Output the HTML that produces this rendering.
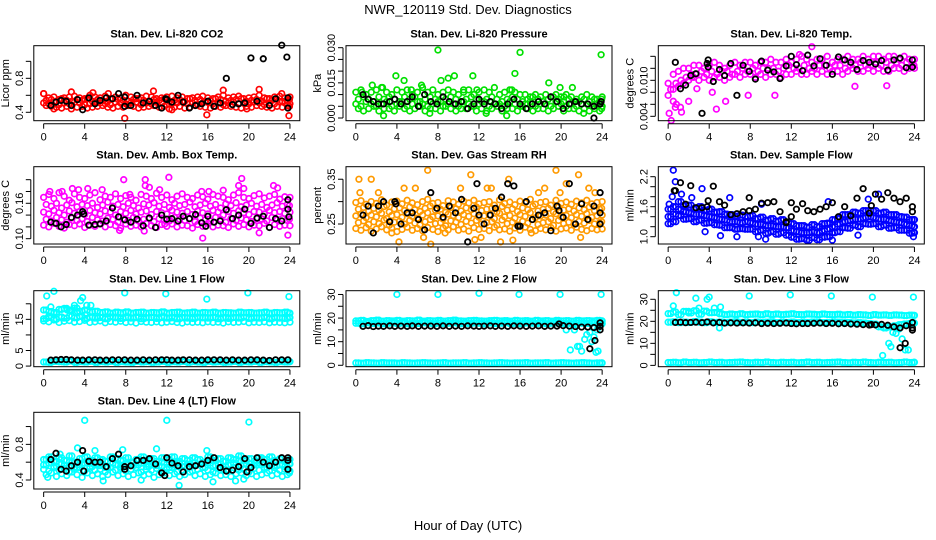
<!DOCTYPE html>
<html><head><meta charset="utf-8"><style>
html,body{margin:0;padding:0;background:#fff;}
svg{display:block;font-family:"Liberation Sans",sans-serif;}
</style></head><body>
<svg id="chart" width="936" height="540" viewBox="0 0 936 540" xmlns="http://www.w3.org/2000/svg">
<rect width="936" height="540" fill="#fff"/>
<text x="468" y="14" text-anchor="middle" font-size="13">NWR_120119  Std. Dev. Diagnostics</text>
<text x="468" y="530" text-anchor="middle" font-size="13">Hour of Day (UTC)</text>
<g id="plots"></g>
</svg>
<script>
const H=[0,0.5,1,1.5,2,2.5,3,3.5,4,4.5,5,5.5,6,6.5,7,7.5,8,8.5,9,9.5,10,10.5,11,11.5,12,12.5,13,13.5,14,14.5,15,15.5,16,16.5,17,17.5,18,18.5,19,19.5,20,20.5,21,21.5,22,22.5,23,23.5,24];
const HQ=[0.25,0.75,1.25,1.75,2.25,2.75,3.25,3.75,4.25,4.75,5.25,5.75,6.25,6.75,7.25,7.75,8.25,8.75,9.25,9.75,10.25,10.75,11.25,11.75,12.25,12.75,13.25,13.75,14.25,14.75,15.25,15.75,16.25,16.75,17.25,17.75,18.25,18.75,19.25,19.75,20.25,20.75,21.25,21.75,22.25,22.75,23.25,23.75,23.95];
const HB=[0.7,1.2,1.7,2.2,2.7,3.3,3.8,4.4,5.0,5.5,6.1,6.7,7.3,7.9,8.5,9.1,9.7,10.3,10.9,11.5,12.0,12.5,13.1,13.6,14.2,14.8,15.4,16.0,16.6,17.2,17.8,18.4,19.0,19.6,20.2,20.8,21.4,22.0,22.6,23.2,23.8];
const hourTicks=[0,4,8,12,16,20,24];

/* CO2 */
const co2A=[.62,.57,.58,.55,.57,.58,.59,.57,.56,.60,.58,.57,.59,.56,.58,.57,.60,.58,.56,.57,.59,.58,.56,.57,.58,.59,.57,.58,.56,.57,.58,.59,.57,.56,.58,.60,.57,.58,.59,.56,.57,.58,.60,.57,.56,.58,.59,.57,.58];
const co2B=[.48,.47,.46,.45,.47,.48,.46,.47,.45,.46,.47,.48,.46,.45,.47,.46,.48,.47,.45,.46,.47,.48,.46,.47,.44,.46,.47,.45,.46,.48,.47,.46,.45,.47,.46,.48,.47,.46,.45,.47,.46,.48,.47,.46,.45,.47,.46,.48,.47];
const co2C=[.54,.55,.53,.56,.54,.53,.55,.54,.56,.53,.55,.54,.53,.56,.55,.54,.53,.55,.56,.54,.53,.55,.54,.56,.53,.54,.55,.53,.56,.54,.55,.53,.54,.56,.55,.53,.54,.55,.56,.53,.54,.55,.53,.56,.54,.55,.53,.54,.55];
const co2D=[.51,.50,.52,.49,.51,.50,.52,.51,.49,.50,.52,.51,.50,.49,.52,.51,.50,.51,.52,.49,.51,.50,.52,.51,.49,.50,.51,.52,.50,.51,.49,.51,.52,.50,.51,.49,.51,.52,.50,.51,.50,.52,.51,.49,.51,.50,.52,.51,.50];
const co2OutX=[0,1,2.7,4.8,7.9,10.7,12.5,15.9,17.5,19.8,21,23.2,23.9,2.7,6.3];
const co2OutV=[.62,.44,.64,.63,.33,.65,.43,.37,.66,.44,.67,.62,.36,.44,.62];
const co2Blk=[.48,.52,.54,.53,.48,.55,.43,.57,.50,.54,.57,.56,.62,.47,.48,.60,.51,.53,.48,.45,.55,.52,.60,.52,.45,.48,.50,.53,.47,.51,.80,.49,.50,.51,1.04,.53,1.03,.48,.56,1.19,.57];
const co2ExX=[23.7,23.8,7.9,11.9];
const co2ExV=[1.05,.45,.58,.56];
const co2Ticks=[.4,.6,.8,1.0];
const co2Labels=['0.4','0.8'];

/* Pressure */
const prA=[.011,.012,.010,.011,.012,.013,.011,.010,.012,.011,.012,.010,.011,.013,.011,.012,.010,.011,.012,.011,.010,.011,.012,.010,.011,.012,.011,.013,.010,.011,.012,.011,.010,.010,.009,.010,.009,.010,.009,.010,.009,.010,.009,.008,.009,.010,.009,.008,.009];
const prB=[.008,.009,.008,.007,.009,.008,.009,.008,.007,.009,.008,.009,.007,.008,.009,.008,.007,.008,.009,.008,.007,.008,.009,.008,.007,.008,.009,.008,.007,.008,.009,.008,.007,.008,.009,.008,.007,.008,.009,.008,.007,.008,.007,.007,.008,.007,.008,.007,.008];
const prC=[.006,.005,.007,.006,.005,.006,.007,.005,.006,.007,.005,.006,.007,.006,.005,.006,.007,.005,.006,.006,.005,.007,.006,.005,.006,.007,.005,.006,.006,.005,.007,.006,.005,.006,.007,.005,.006,.006,.005,.007,.006,.005,.006,.005,.006,.006,.005,.006,.005];
const prD=[.004,.003,.004,.005,.003,.004,.004,.003,.005,.004,.003,.004,.005,.003,.004,.004,.003,.005,.004,.003,.004,.004,.005,.003,.004,.003,.004,.005,.003,.004,.004,.003,.005,.004,.003,.004,.004,.003,.004,.005,.003,.004,.004,.003,.004,.003,.004,.003,.004];
const prOutX=[0.6,1.6,2.6,3.9,4.7,5.4,6.4,7.2,8.0,8.3,9,9.6,10.5,11.4,11.8,12.7,15.2,15.5,16,18.8,19.9,21.1,22.2,23.9,2.7,14.7,20.3];
const prOutV=[.011,.014,.013,.018,.016,.012,.014,.002,.029,.016,.017,.018,.012,.018,.012,.002,.012,.019,.028,.015,.013,.013,.002,.027,.001,.001,.009];
const prBlk=[.010,.008,.007,.006,.006,.007,.008,.006,.007,.009,.005,.010,.007,.006,.009,.007,.006,.007,.004,.006,.008,.006,.007,.006,.004,.006,.008,.006,.004,.006,.007,.006,.009,.007,.004,.006,.007,.006,.006,.005,.006];
const prExX=[23.2,23.8,23.9];
const prExV=[.000,.006,.007];
const prTicks=[0,.005,.010,.015,.020,.025,.030];
const prLabels=['0.000','0.015','0.030'];

/* Li-820 Temp */
const tmA=[.0095,.011,.0115,.012,.012,.0125,.0125,.012,.0125,.013,.0125,.012,.0125,.013,.0125,.013,.013,.0125,.013,.013,.0135,.013,.013,.0135,.013,.0135,.014,.0135,.013,.0135,.0135,.014,.013,.0135,.0135,.014,.0135,.0135,.014,.0135,.014,.014,.0135,.014,.014,.0135,.014,.0135,.0135];
const tmB=[.0085,.0095,.010,.0105,.011,.011,.0115,.011,.0115,.011,.0115,.0115,.011,.0115,.012,.0115,.012,.0115,.012,.012,.012,.0115,.012,.0125,.012,.012,.0125,.012,.012,.0125,.0125,.012,.0125,.0125,.012,.0125,.0125,.013,.0125,.0125,.013,.0125,.013,.0125,.013,.0125,.013,.0125,.0125];
const tmC=[.0075,.0085,.009,.0095,.010,.0105,.010,.0105,.010,.0105,.0105,.010,.0105,.011,.0105,.011,.011,.0105,.011,.0105,.011,.011,.0105,.011,.011,.0115,.011,.011,.0115,.011,.0115,.011,.0115,.0115,.011,.0115,.012,.0115,.0115,.012,.0115,.012,.0115,.0115,.012,.012,.0115,.012,.012];
const tmOutX=[0.1,0.3,0.5,0.8,1.2,1.3,2.3,2,4.7,5.6,4.3,2.8,7.8,10.4,14,18.2,21.3,12.8,0.7];
const tmOutV=[.0045,.0033,.0065,.006,.0055,.0047,.0105,.0065,.0052,.0065,.008,.0086,.0075,.0075,.0156,.009,.0091,.0143,.0055];
const tmBlk=[.0130,.0086,.0092,.0108,.0111,.0045,.0128,.0098,.0118,.0108,.0128,.0075,.0125,.0115,.0102,.0132,.0117,.0114,.0103,.0124,.0140,.0126,.0116,.0142,.0124,.0136,.0125,.0110,.0139,.0134,.0130,.0118,.0133,.0130,.0127,.0133,.0117,.0134,.0137,.0121,.0122];
const tmExX=[3.9,3.9,23.8];
const tmExV=[.0134,.0122,.0134];
const tmTicks=[.004,.006,.008,.010,.012,.014];
const tmLabels=['0.004','0.010'];

/* Amb Box Temp */
const amA=[.170,.175,.168,.178,.172,.165,.176,.170,.168,.174,.178,.166,.172,.170,.176,.168,.173,.170,.165,.175,.172,.168,.177,.170,.174,.166,.172,.176,.170,.168,.174,.171,.167,.175,.172,.170,.166,.174,.178,.170,.168,.173,.176,.169,.172,.175,.167,.171,.170];
const amB=[.158,.155,.160,.152,.157,.161,.154,.158,.156,.160,.153,.157,.162,.155,.158,.154,.160,.156,.152,.159,.157,.161,.155,.158,.153,.160,.156,.158,.162,.154,.157,.160,.155,.158,.152,.159,.156,.161,.154,.157,.160,.155,.158,.153,.157,.161,.155,.158,.156];
const amC=[.145,.142,.148,.144,.140,.147,.143,.146,.141,.148,.144,.142,.147,.145,.140,.146,.143,.148,.142,.145,.147,.141,.146,.144,.142,.148,.145,.143,.146,.141,.147,.144,.142,.148,.145,.140,.146,.143,.147,.144,.141,.146,.145,.142,.148,.144,.146,.143,.145];
const amD=[.133,.130,.136,.132,.128,.135,.131,.134,.129,.136,.132,.130,.135,.133,.128,.134,.131,.136,.130,.133,.135,.129,.134,.132,.130,.136,.133,.131,.134,.129,.135,.132,.130,.136,.133,.128,.134,.131,.135,.132,.129,.134,.133,.130,.136,.132,.134,.131,.133];
const amE=[.123,.120,.126,.121,.118,.124,.122,.125,.119,.123,.121,.126,.120,.124,.122,.118,.125,.121,.123,.120,.126,.122,.119,.124,.121,.125,.120,.123,.122,.118,.124,.121,.126,.120,.123,.122,.119,.125,.121,.124,.120,.123,.122,.126,.119,.124,.121,.123,.122];
const amOutX=[0.6,1.8,2.8,3.4,4.3,5.7,7.8,8.4,9.9,9.9,10.3,12.2,11.3,15.4,16.1,17.5,19.0,19.3,19.5,22.4,22.8,7.4,9.8,15.5,21.0,23.8,11.8];
const amOutV=[.18,.18,.185,.183,.185,.183,.2,.175,.2,.19,.187,.204,.183,.18,.18,.182,.19,.202,.185,.19,.186,.114,.113,.101,.11,.106,.125];
const amBlk=[.128,.126,.120,.124,.136,.140,.146,.123,.124,.125,.130,.152,.137,.132,.128,.133,.122,.135,.119,.140,.133,.134,.130,.138,.134,.141,.127,.138,.128,.130,.149,.134,.140,.150,.126,.135,.138,.119,.134,.130,.150];
const amExX=[23.8,23.9,3.9,15.8];
const amExV=[.166,.137,.142,.121];
const amTicks=[.10,.12,.14,.16,.18,.20];
const amLabels=['0.10','0.16'];

/* Gas Stream RH */
const rhA=[.298,.302,.294,.300,.296,.304,.292,.299,.301,.295,.303,.297,.293,.300,.305,.296,.298,.291,.302,.299,.294,.301,.297,.303,.295,.298,.300,.292,.304,.296,.299,.293,.301,.297,.305,.294,.298,.300,.292,.303,.296,.299,.294,.301,.297,.303,.295,.298,.300];
const rhB=[.283,.287,.279,.285,.281,.289,.277,.284,.286,.280,.288,.282,.278,.285,.290,.281,.283,.276,.287,.284,.279,.286,.282,.288,.280,.283,.285,.277,.289,.281,.284,.278,.286,.282,.290,.279,.283,.285,.277,.288,.281,.284,.279,.286,.282,.288,.280,.283,.285];
const rhC=[.268,.272,.264,.270,.266,.274,.262,.269,.271,.265,.273,.267,.263,.270,.275,.266,.268,.261,.272,.269,.264,.271,.267,.273,.265,.268,.270,.262,.274,.266,.269,.263,.271,.267,.275,.264,.268,.270,.262,.273,.266,.269,.264,.271,.267,.273,.265,.268,.270];
const rhD=[.253,.257,.249,.255,.251,.259,.247,.254,.256,.250,.258,.252,.248,.255,.260,.251,.253,.246,.257,.254,.249,.256,.252,.258,.250,.253,.255,.247,.259,.251,.254,.248,.256,.252,.260,.249,.253,.255,.247,.258,.251,.254,.249,.256,.252,.258,.250,.253,.255];
const rhE=[.240,.236,.242,.234,.239,.244,.237,.241,.233,.238,.243,.236,.240,.235,.242,.238,.233,.241,.237,.244,.236,.239,.234,.242,.238,.240,.235,.243,.237,.239,.234,.241,.236,.243,.238,.235,.240,.237,.242,.234,.239,.241,.236,.243,.238,.235,.240,.237,.239];
const rhOutX=[0.3,1.5,0.4,2.2,3.5,4.2,4.7,5.8,6.6,7.0,7.3,8.7,10.2,11.2,11.6,12.2,12.8,13.2,14.1,14.9,15.3,17.1,17.8,18.4,19.5,19.9,20.5,21.7,21.9,22.7,23.3];
const rhOutV=[.35,.35,.32,.32,.23,.21,.33,.33,.22,.37,.205,.23,.33,.36,.215,.22,.33,.33,.21,.35,.214,.23,.32,.33,.37,.32,.34,.36,.22,.33,.32];
const rhBlk=[.270,.290,.230,.290,.300,.255,.300,.250,.275,.275,.260,.237,.320,.285,.265,.290,.275,.305,.210,.285,.270,.250,.270,.285,.310,.340,.335,.245,.300,.260,.270,.275,.235,.290,.265,.340,.250,.295,.260,.290,.275];
const rhExX=[23.8,23.8,11.8,15.8,19.8,3.9];
const rhExV=[.25,.32,.34,.245,.28,.295];
const rhTicks=[.25,.30,.35];
const rhLabels=['0.25','0.35'];

/* Sample Flow */
const sfA=[1.55,1.60,1.70,1.62,1.63,1.56,1.60,1.53,1.55,1.49,1.50,1.45,1.44,1.41,1.43,1.40,1.42,1.36,1.39,1.33,1.36,1.31,1.34,1.29,1.26,1.22,1.22,1.19,1.24,1.20,1.26,1.27,1.34,1.37,1.44,1.44,1.49,1.47,1.52,1.52,1.52,1.47,1.49,1.44,1.44,1.40,1.39,1.34,1.34];
const sfB=[1.40,1.45,1.55,1.50,1.48,1.45,1.45,1.42,1.40,1.38,1.35,1.33,1.30,1.30,1.28,1.30,1.28,1.25,1.25,1.22,1.22,1.20,1.20,1.18,1.12,1.10,1.08,1.08,1.10,1.08,1.12,1.15,1.20,1.25,1.30,1.32,1.35,1.35,1.38,1.40,1.38,1.35,1.35,1.32,1.30,1.28,1.25,1.22,1.20];
const sfC=[1.26,1.30,1.42,1.35,1.36,1.30,1.33,1.27,1.28,1.24,1.23,1.18,1.18,1.15,1.16,1.15,1.15,1.10,1.13,1.07,1.10,1.05,1.08,1.03,0.99,0.95,0.96,0.93,0.98,0.94,0.99,1.00,1.08,1.10,1.18,1.17,1.23,1.20,1.26,1.25,1.26,1.20,1.23,1.17,1.18,1.13,1.13,1.07,1.08];
const sfOutX=[0.5,0.7,0.4,3.3,6.0,9.1,0.1,8.8,9.5,5.1,6.7,16.0,18.5,23.9,20.5,19.5,1.3,2.3,15.6,3.6];
const sfOutV=[2.33,2.1,1.8,1.96,1.78,1.65,1.65,1.0,0.95,1.02,1.0,0.93,1.03,1.0,1.85,1.75,1.85,1.78,1.7,1.1];
const sfBlk=[1.92,2.08,1.65,2.02,1.58,1.58,1.60,2.01,1.70,1.63,1.44,1.46,1.50,1.78,1.55,1.67,1.68,1.70,1.50,1.28,1.68,1.55,1.66,1.52,1.50,1.55,1.60,1.68,1.40,1.60,1.42,1.77,1.96,1.47,1.85,1.75,1.88,1.77,1.70,1.77,1.60];
const sfExX=[12,11.5,19.8,23.8,0.6,3.9,7.9];
const sfExV=[1.4,1.30,1.62,1.5,1.92,1.72,1.52];
const sfTicks=[1.0,1.2,1.4,1.6,1.8,2.0,2.2];
const sfLabels=['1.0','1.6','2.2'];

/* Line 1 Flow */
const l1A=[18.0,17.5,17.2,18.2,18.5,17.8,18.6,17.6,18.0,17.4,17.6,17.2,17.4,17.0,17.3,17.1,17.4,17.0,17.2,17.3,17.0,17.2,17.1,17.4,17.0,17.2,17.3,17.0,17.1,17.3,17.0,17.2,17.1,17.3,17.0,17.2,17.1,17.0,17.3,17.1,17.2,17.0,17.1,17.3,17.0,17.2,17.1,17.3,17.0];
const l1B=[15.2,15.6,15.0,15.8,15.4,16.0,15.5,15.9,15.3,15.7,15.4,15.6,15.2,15.8,15.5,15.3,15.6,15.4,15.7,15.2,15.5,15.6,15.3,15.7,15.4,15.5,15.2,15.6,15.4,15.3,15.7,15.5,15.4,15.6,15.2,15.5,15.3,15.6,15.4,15.7,15.3,15.5,15.4,15.6,15.2,15.5,15.4,15.3,15.6];
const l1C=[14.5,14.2,14.8,14.0,14.4,14.6,14.1,14.3,14.7,14.0,14.2,14.5,13.9,14.3,14.1,14.4,14.0,14.2,13.8,14.3,14.1,14.0,14.2,13.9,14.1,14.3,14.0,13.8,14.2,14.0,14.1,13.9,14.2,14.0,14.1,13.8,14.2,14.0,14.1,14.3,13.9,14.1,14.0,14.2,13.9,14.1,14.0,13.9,14.1];
const l1D=[1.3,1.2,1.5,1.4,1.3,1.6,1.2,1.4,1.3,1.5,1.2,1.4,1.3,1.5,1.2,1.4,1.3,1.2,1.5,1.3,1.4,1.2,1.3,1.5,1.2,1.4,1.3,1.5,1.2,1.4,1.3,1.2,1.5,1.3,1.4,1.2,1.3,1.5,1.2,1.4,1.3,1.5,1.2,1.4,1.3,1.2,1.4,1.3,1.4];
const l1OutX=[0.3,0.5,0.7,1.0,2.6,2.3,3.0,3.3,3.6,3.8,4.2,4.6,7.9,11.9,15.9,19.9,23.9,1.0];
const l1OutV=[22.5,16,19,17,18,18,19.5,17.5,21,22,19.5,19.5,23.5,23.2,21.5,23.5,22.3,24];
const l1Blk=[1.9,2.0,2.1,2.1,2.0,1.9,1.9,2.0,2.0,1.9,1.9,2.0,2.0,2.0,1.9,1.9,2.0,1.9,2.0,2.0,2.0,1.9,1.9,2.0,2.0,1.9,1.9,2.0,2.0,2.0,1.9,2.0,1.9,1.9,2.0,2.0,1.9,1.8,2.0,2.0,2.0];
const l1ExX=[];
const l1ExV=[];
const l1Ticks=[0,5,10,15,20];
const l1Labels=['0','5','15'];

/* Line 2 Flow */
const l2A=[18.8,19.0,18.6,18.9,19.1,18.7,18.9,18.8,19.0,18.7,18.9,18.8,19.1,18.7,18.9,18.8,19.0,18.7,18.9,19.1,18.8,18.7,18.9,19.0,18.8,18.7,18.9,19.0,18.8,18.9,18.7,19.0,18.8,18.9,18.7,19.0,18.8,18.9,18.7,19.0,18.8,18.9,18.7,19.0,18.8,18.9,18.8,19.0,18.8];
const l2B=[17.8,17.6,18.0,17.7,17.9,17.6,17.8,18.0,17.7,17.9,17.6,17.8,17.7,18.0,17.8,17.6,17.9,17.7,17.8,18.0,17.6,17.8,17.7,17.9,17.8,17.6,17.9,17.7,17.8,18.0,17.7,17.8,17.6,17.9,17.8,17.7,17.9,17.6,17.8,18.0,17.7,17.8,17.6,17.9,17.8,17.7,17.9,17.8,17.6];
const l2C=[1.0,0.9,1.1,1.0,0.9,1.1,1.0,1.0,0.9,1.1,1.0,0.9,1.0,1.1,1.0,0.9,1.0,1.1,0.9,1.0,1.0,1.1,0.9,1.0,1.1,1.0,0.9,1.0,1.1,1.0,0.9,1.0,1.0,1.1,0.9,1.0,1.0,1.1,0.9,1.0,1.1,1.0,0.9,1.0,1.1,1.0,0.9,1.0,1.0];
const l2OutX=[4,8,12,15.9,19.9,23.9,20.5,20.9,21.3,21.6,21.8,22.0,22.3,22.5,22.8,23.0,23.2,23.4,23.6,23.5];
const l2OutV=[30,30,30.5,30,30,30,15,6.5,15,8,8,6,11,13,14,10,12,5.5,6,15];
const l2Blk=[16.5,16.8,16.4,16.6,16.5,16.7,16.5,16.6,16.5,16.7,16.5,16.6,16.6,16.5,16.7,16.5,16.6,16.5,16.7,16.6,16.5,16.6,16.7,16.5,16.6,16.5,16.7,16.6,16.5,16.6,16.7,16.5,16.6,16.6,16.8,16.6,16.4,16.2,16.2,16.0,16.5];
const l2ExX=[22.8,23.3,23.8,23.8,19.8];
const l2ExV=[7,10.5,18,15,17.5];
const l2Ticks=[0,5,10,15,20,25,30];
const l2Labels=['0','10','20','30'];

/* Line 3 Flow */
const l3A=[23.5,24.2,23.0,24.5,23.8,24.8,23.2,24.6,23.9,24.0,23.4,23.0,23.3,23.1,23.4,23.0,23.2,23.3,23.0,23.4,23.1,23.3,23.0,23.2,23.4,23.1,23.0,23.3,23.2,23.0,23.3,23.1,23.0,23.2,22.9,23.1,22.8,23.0,22.9,22.7,23.0,22.8,22.9,22.7,22.9,22.8,22.6,22.8,22.7];
const l3B=[19.6,19.8,19.4,19.7,19.5,19.9,19.6,19.4,19.8,19.5,19.7,19.4,19.6,19.8,19.5,19.6,19.4,19.7,19.5,19.6,19.8,19.4,19.6,19.5,19.7,19.4,19.6,19.5,19.7,19.6,19.4,19.5,19.7,19.6,19.4,19.5,19.3,19.4,19.2,19.0,18.8,17.5,17.0,17.5,18.0,18.5,18.8,19.0,19.2];
const l3C=[1.3,1.4,1.2,1.5,1.3,1.4,1.2,1.3,1.5,1.3,1.4,1.2,1.3,1.4,1.5,1.3,1.2,1.4,1.3,1.5,1.3,1.2,1.4,1.3,1.4,1.2,1.3,1.5,1.3,1.4,1.2,1.3,1.4,1.5,1.3,1.2,1.4,1.3,1.5,1.3,1.2,1.4,1.3,1.4,1.2,1.3,1.5,1.3,1.4];
const l3OutX=[0.5,0.8,2.7,3.8,4.0,2.0,3.0,4.5,5.1,7.9,11.9,15.9,19.9,23.9,20.9,21.5,21.7,21.9,22.2,22.5,22.8,23.1,23.4,22.3,5.0];
const l3OutV=[27,33,30.5,30,31,24.5,26,26,26.5,31.5,32,31.5,31,31,4.5,10,8.5,15,14.5,16.5,12,7,7,17,17];
const l3Blk=[19.5,19.6,19.4,19.5,19.6,19.4,19.7,19.3,19.5,19.2,19.3,19.2,19.3,19.2,19.3,19.0,19.1,19.0,19.1,19.2,19.0,18.9,19.0,19.0,19.1,19.2,19.0,19.1,18.9,19.0,18.8,18.7,18.5,18.3,18.4,18.6,18.2,17.5,17.0,18.0,19.5];
const l3ExX=[22.6,23.1,23.8,23.8,19.8];
const l3ExV=[8,10,17,16,18.5];
const l3Ticks=[0,5,10,15,20,25,30];
const l3Labels=['0','10','20','30'];

/* Line 4 Flow */
const l4A=[.63,.66,.61,.65,.62,.67,.60,.64,.66,.62,.65,.63,.61,.66,.64,.62,.65,.60,.63,.66,.62,.64,.61,.65,.63,.66,.61,.64,.62,.65,.63,.60,.66,.62,.64,.61,.65,.63,.67,.62,.64,.61,.65,.63,.66,.62,.64,.61,.63];
const l4B=[.57,.59,.55,.58,.56,.60,.54,.57,.59,.55,.58,.56,.54,.59,.57,.55,.58,.56,.57,.59,.55,.58,.56,.60,.54,.57,.59,.55,.58,.56,.57,.54,.59,.56,.58,.55,.57,.59,.56,.58,.55,.57,.59,.54,.58,.56,.57,.55,.58];
const l4C=[.52,.50,.54,.51,.53,.49,.52,.54,.50,.53,.51,.52,.49,.54,.51,.53,.50,.52,.54,.49,.52,.51,.53,.50,.52,.54,.49,.51,.53,.50,.52,.54,.51,.49,.53,.52,.50,.54,.51,.52,.49,.53,.51,.52,.50,.54,.51,.52,.50];
const l4D=[.46,.48,.44,.47,.45,.49,.46,.43,.48,.45,.47,.44,.46,.49,.45,.47,.44,.46,.48,.45,.47,.43,.46,.48,.45,.47,.44,.46,.49,.45,.47,.44,.46,.48,.45,.46,.44,.47,.48,.45,.47,.44,.46,.48,.45,.47,.44,.46,.48];
const l4OutX=[4,12,20,3.3,11,7.7,15.9,5,1.6,13.2,16.5,5.8,9.5,0.4,19.5,18.7];
const l4OutV=[1.07,1.07,1.05,.76,.75,.74,.73,.73,.69,.34,.38,.39,.40,.43,.41,.39];
const l4Blk=[.63,.70,.52,.50,.56,.60,.73,.61,.60,.60,.55,.64,.69,.52,.56,.62,.62,.64,.58,.48,.65,.59,.56,.49,.55,.56,.58,.62,.65,.54,.50,.51,.55,.64,.54,.65,.60,.56,.60,.65,.62];
const l4ExX=[3.9,11.8,19.8,23.8,23.8,7.9];
const l4ExV=[.50,.45,.49,.52,.65,.55];
const l4Ticks=[.4,.6,.8,1.0];
const l4Labels=['0.4','0.8'];

const colLeft=[33.8,346,658.3];
const rowTop=[45.7,166.7,290.7,412.3];
const rowBot=[120.7,244,366.7,489];
const boxW=266;

const panels=[
 {id:'co2',c:0,r:0,title:'Stan. Dev. Li-820 CO2',ylab:'Licor ppm',lo:.301,hi:1.184,color:'#ff0000',clouds:[[H,co2A],[HQ,co2C],[H,co2D],[HQ,co2B]],ox:co2OutX,ov:co2OutV,blk:co2Blk,ex:co2ExX,ev:co2ExV,ticks:co2Ticks,labels:co2Labels},
 {id:'pressure',c:1,r:0,title:'Stan. Dev. Li-820 Pressure',ylab:'kPa',lo:-.00115,hi:.03085,color:'#00e000',clouds:[[H,prA],[HQ,prB],[H,prC],[HQ,prD]],ox:prOutX,ov:prOutV,blk:prBlk,ex:prExX,ev:prExV,ticks:prTicks,labels:prLabels},
 {id:'li820-temp',c:2,r:0,title:'Stan. Dev. Li-820 Temp.',ylab:'degrees C',lo:.00327,hi:.01577,color:'#ff00ff',clouds:[[H,tmA],[HQ,tmB],[H,tmC]],ox:tmOutX,ov:tmOutV,blk:tmBlk,ex:tmExX,ev:tmExV,ticks:tmTicks,labels:tmLabels},
 {id:'amb-box-temp',c:0,r:1,title:'Stan. Dev. Amb. Box Temp.',ylab:'degrees C',lo:.091,hi:.222,color:'#ff00ff',clouds:[[H,amA],[HQ,amB],[H,amC],[HQ,amD],[H,amE]],ox:amOutX,ov:amOutV,blk:amBlk,ex:amExX,ev:amExV,ticks:amTicks,labels:amLabels},
 {id:'gas-stream-rh',c:1,r:1,title:'Stan. Dev. Gas Stream RH',ylab:'percent',lo:.2053,hi:.378,color:'#ff9a00',clouds:[[H,rhA],[HQ,rhB],[H,rhC],[HQ,rhD],[H,rhE]],ox:rhOutX,ov:rhOutV,blk:rhBlk,ex:rhExX,ev:rhExV,ticks:rhTicks,labels:rhLabels},
 {id:'sample-flow',c:2,r:1,title:'Stan. Dev. Sample Flow',ylab:'ml/min',lo:.854,hi:2.4,color:'#0000ff',clouds:[[H,sfA],[HQ,sfB],[H,sfC],[HQ,sfA],[HQ,sfC],[H,sfB]],ox:sfOutX,ov:sfOutV,blk:sfBlk,ex:sfExX,ev:sfExV,ticks:sfTicks,labels:sfLabels},
 {id:'line1-flow',c:0,r:2,title:'Stan. Dev. Line 1 Flow',ylab:'ml/min',lo:-.2,hi:24.2,color:'#00ffff',clouds:[[H,l1A],[HQ,l1B],[H,l1C],[H,l1D],[HQ,l1D],[HQ,l1A],[H,l1B]],ox:l1OutX,ov:l1OutV,blk:l1Blk,ex:l1ExX,ev:l1ExV,ticks:l1Ticks,labels:l1Labels},
 {id:'line2-flow',c:1,r:2,title:'Stan. Dev. Line 2 Flow',ylab:'ml/min',lo:-.6,hi:31.6,color:'#00ffff',clouds:[[H,l2A],[HQ,l2B],[H,l2C],[HQ,l2C],[HQ,l2A],[H,l2B]],ox:l2OutX,ov:l2OutV,blk:l2Blk,ex:l2ExX,ev:l2ExV,ticks:l2Ticks,labels:l2Labels},
 {id:'line3-flow',c:2,r:2,title:'Stan. Dev. Line 3 Flow',ylab:'ml/min',lo:-.6,hi:33.9,color:'#00ffff',clouds:[[H,l3A],[HQ,l3B],[H,l3C],[HQ,l3C],[HQ,l3A],[H,l3B]],ox:l3OutX,ov:l3OutV,blk:l3Blk,ex:l3ExX,ev:l3ExV,ticks:l3Ticks,labels:l3Labels},
 {id:'line4-flow',c:0,r:3,title:'Stan. Dev. Line 4 (LT) Flow',ylab:'ml/min',lo:.299,hi:1.16,color:'#00ffff',clouds:[[H,l4A],[HQ,l4B],[H,l4C],[HQ,l4D],[HQ,l4A],[H,l4B]],ox:l4OutX,ov:l4OutV,blk:l4Blk,ex:l4ExX,ev:l4ExV,ticks:l4Ticks,labels:l4Labels}
];

const NS='http://www.w3.org/2000/svg';
const root=document.getElementById('plots');
function mk(tag,attrs,parent){const e=document.createElementNS(NS,tag);for(const k in attrs)e.setAttribute(k,attrs[k]);parent.appendChild(e);return e;}

panels.forEach(p=>{
  const x0=colLeft[p.c], y0=rowTop[p.r], y1=rowBot[p.r], h=y1-y0;
  const xs=t=>x0+(t+0.96)/25.92*boxW;
  const ys=v=>y1-(v-p.lo)/(p.hi-p.lo)*h;
  const g=mk('g',{},root);
  
  
  const title=mk('text',{x:x0+boxW/2,y:y0-8,'text-anchor':'middle','font-size':'11','font-weight':'bold'},g);
  title.textContent=p.title;
  
  
  const yl=mk('text',{transform:`translate(${x0-25},${(y0+y1)/2}) rotate(-90)`,'text-anchor':'middle','font-size':'11'},g);
  yl.textContent=p.ylab;
  
  
  const pts=mk('g',{fill:'none','stroke-width':'1.7'},g);
  
  
  p.clouds.forEach(([hx,vals])=>{
    const n=Math.min(hx.length,vals.length);
    for(let i=0;i<n;i++){
      const c=mk('circle',{cx:xs(hx[i]),cy:ys(vals[i]),r:2.8,stroke:p.color},pts);
      
      
    }
  });
  for(let i=0;i<p.ox.length;i++){
    const c=mk('circle',{cx:xs(p.ox[i]),cy:ys(p.ov[i]),r:2.8,stroke:p.color},pts);
    
    
  }
  for(let i=0;i<Math.min(HB.length,p.blk.length);i++){
    const c=mk('circle',{cx:xs(HB[i]),cy:ys(p.blk[i]),r:2.7,stroke:'#000','stroke-width':'1.8'},pts);
    
    
  }
  for(let i=0;i<p.ex.length;i++){
    const c=mk('circle',{cx:xs(p.ex[i]),cy:ys(p.ev[i]),r:2.7,stroke:'#000','stroke-width':'1.8'},pts);
    
    
  }
  const box=mk('rect',{x:x0,y:y0,width:boxW,height:h,fill:'none',stroke:'#000','stroke-width':'1'},g);
  
  
  const xa=mk('g',{stroke:'#000','stroke-width':'1'},g);
  
  
  mk('line',{x1:xs(0),x2:xs(24),y1:y1+3,y2:y1+3},xa);
  hourTicks.forEach(t=>{
    mk('line',{x1:xs(t),x2:xs(t),y1:y1+3,y2:y1+8},xa);
    const tl=mk('text',{x:xs(t),y:y1+20,'text-anchor':'middle','font-size':'11',stroke:'none',fill:'#000'},xa);
    tl.textContent=String(t);
    
    
  });
  const ya=mk('g',{stroke:'#000','stroke-width':'1'},g);
  
  
  mk('line',{x1:x0-3,x2:x0-3,y1:ys(p.ticks[0]),y2:ys(p.ticks[p.ticks.length-1])},ya);
  p.ticks.forEach(t=>{mk('line',{x1:x0-3,x2:x0-8,y1:ys(t),y2:ys(t)},ya);});
  p.labels.forEach(s=>{
    const v=parseFloat(s);
    const tl=mk('text',{transform:`translate(${x0-11},${ys(v)}) rotate(-90)`,'text-anchor':'middle','font-size':'11',stroke:'none',fill:'#000'},ya);
    tl.textContent=s;
    
    
  });
});
</script>
</body></html>
